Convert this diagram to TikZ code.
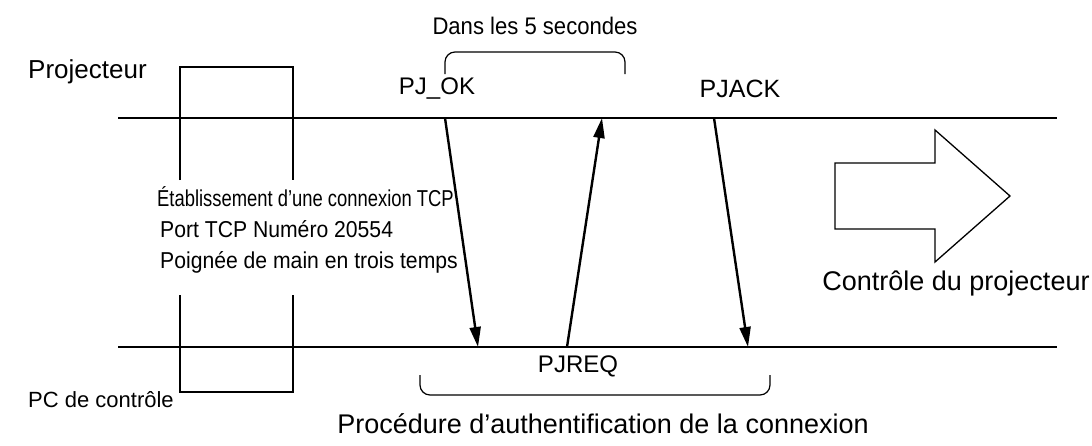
\documentclass[tikz,border=0pt]{standalone}
\usepackage{fontspec}
\setmainfont{Liberation Sans}
\usetikzlibrary{arrows.meta}
\begin{document}
\begin{tikzpicture}[x=1pt,y=-1pt,
  lbl/.style={inner sep=0pt},
  ln/.style={line width=2.4pt},
  msg/.style={line width=2.4pt,-{Triangle[length=20pt,width=11pt]}},
  br/.style={line width=1.2pt,rounded corners=10pt}]
\useasboundingbox (0,0) rectangle (1092,445);
\node[lbl,anchor=west,font=\fontsize{26}{29}\selectfont] (proj) at (28,72) {Projecteur};
\node[lbl,anchor=west,font=\fontsize{22}{25}\selectfont] (pc) at (28,400) {PC de contrôle};
\coordinate (t0) at (118,118); \coordinate (t1) at (1057,118);
\coordinate (b0) at (118,347); \coordinate (b1) at (1057,347);
\draw[ln] (t0) -- (t1);
\draw[ln] (b0) -- (b1);
\draw[line width=1.5pt] (180,180) -- (180,67) -- (293,67) -- (293,180);
\draw[line width=1.5pt] (180,295) -- (180,392) -- (293,392) -- (293,295);
\node[lbl,anchor=west,font=\fontsize{23}{26}\selectfont] (l1) at (157,197) {\scalebox{0.8}[1]{Établissement d’une connexion TCP}};
\node[lbl,anchor=west,font=\fontsize{23}{26}\selectfont] (l2) at (160,229) {\scalebox{0.92}[1]{Port TCP Numéro 20554}};
\node[lbl,anchor=west,font=\fontsize{23}{26}\selectfont] (l3) at (160,262) {\scalebox{0.92}[1]{Poignée de main en trois temps}};
\node[lbl,font=\fontsize{24}{27}\selectfont] (ok) at (437,89) {PJ\_OK};
\node[lbl,font=\fontsize{25}{28}\selectfont] (ack) at (740,89) {PJACK};
\node[lbl,font=\fontsize{24}{27}\selectfont] (req) at (578,366) {PJREQ};
\coordinate (a1) at (445,118); \coordinate (a2) at (478,347);
\coordinate (c1) at (567,347); \coordinate (c2) at (602,118);
\coordinate (d1) at (714,118); \coordinate (d2) at (748,347);
\draw[msg] (a1) -- (a2);
\draw[msg] (c1) -- (c2);
\draw[msg] (d1) -- (d2);
\draw[br] (445,74) -- (445,52) -- (625,52) -- (625,74);
\node[lbl,font=\fontsize{24}{27}\selectfont] (five) at (535,26) {\scalebox{0.92}[1]{Dans les 5 secondes}};
\draw[br] (420,375) -- (420,395) -- (770,395) -- (770,375);
\node[lbl,font=\fontsize{27}{30}\selectfont] (auth) at (603,424) {Procédure d’authentification de la connexion};
\draw[line width=1.3pt] (835,163) -- (935,163) -- (935,130) -- (1010,196) -- (935,262) -- (935,229) -- (835,229) -- cycle;
\node[lbl,font=\fontsize{27}{30}\selectfont] (ctl) at (956,283) {Contrôle du projecteur};
\end{tikzpicture}
\end{document}
